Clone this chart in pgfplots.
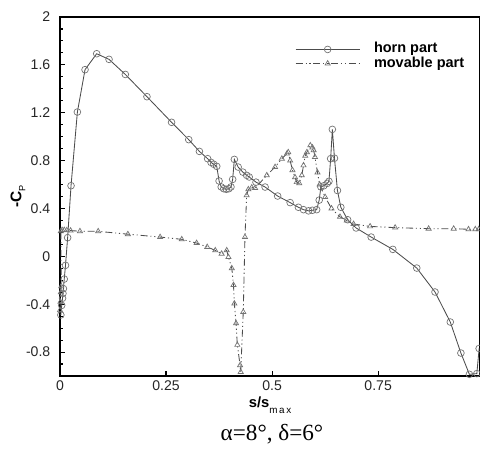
\documentclass[border=0pt]{standalone}
\usepackage{pgfplots}
\pgfplotsset{compat=1.18}
\usepackage{fontspec}
\setmainfont{Liberation Sans}
\newfontfamily\capfont{Liberation Serif}

\begin{document}
\begin{tikzpicture}
\begin{axis}[
    name=ax,
    scale only axis,
    width=10.5cm, height=8.975cm,
    xmin=0, xmax=0.99, ymin=-1, ymax=2,
    axis line style={black, line width=1.5pt},
    xtick={0,0.25,0.5,0.75},
    xticklabels={0,0.25,0.5,0.75},
    ytick={-0.8,-0.4,0,0.4,0.8,1.2,1.6,2},
    yticklabels={-0.8,-0.4,0,0.4,0.8,1.2,1.6,2},
    minor ytick={-0.9,-0.8,...,1.95},
    tick pos=left,
    tick align=inside,
    major tick length=0.13cm,
    minor tick length=0.07cm,
    tick style={black, line width=0.8pt},
    ticklabel style={font=\fontsize{10}{12}\selectfont, text=black!85},
    yticklabel style={xshift=-0.12cm},
    xlabel={\textbf{s/s}\raisebox{-0.7ex}{\fontsize{7}{8}\selectfont m\,a\,x}},
    xlabel style={at={(axis description cs:0.5,-0.081)}, anchor=center, font=\fontsize{10.5}{12}\selectfont},
    ylabel={\textbf{-C}\raisebox{-0.5ex}{\fontsize{6.5}{8}\selectfont P}},
    ylabel style={at={(axis description cs:-0.1,0.5)}, anchor=center, font=\fontsize{11}{12}\selectfont},
    legend style={
        at={(axis description cs:0.5595,0.930)},
        anchor=north west,
        draw=none, fill=none, inner sep=0pt,
        font=\fontsize{10.3}{12}\bfseries,
        nodes={inner sep=0.5pt, text height=7pt, text depth=2pt},
        /tikz/every odd column/.append style={column sep=0.33cm},
    },
    legend cell align=left,
    legend image code/.code={
        \draw[mark repeat=2, mark phase=2, #1]
            plot coordinates {(0cm,0cm) (0.8cm,0cm) (1.6cm,0cm)};
    },
]

% horn part
\addplot[draw=black!70, line width=0.6pt, mark=o, mark size=2.4pt,
         mark options={draw=black!55, fill=none, line width=0.5pt, solid}] coordinates {
(0.002,-0.49) (0.004,-0.41) (0.006,-0.35) (0.007,-0.31) (0.008,-0.27)
(0.010,-0.19) (0.013,-0.075) (0.018,0.156) (0.026,0.59) (0.041,1.206)
(0.059,1.56) (0.0865,1.693) (0.1156,1.646) (0.154,1.52) (0.205,1.334)
(0.263,1.12) (0.3035,0.975) (0.3286,0.877) (0.348,0.816) (0.356,0.785)
(0.362,0.77) (0.3695,0.752) (0.375,0.63) (0.380,0.58) (0.386,0.565)
(0.392,0.56) (0.398,0.565) (0.403,0.58) (0.407,0.643) (0.411,0.81)
(0.420,0.746) (0.431,0.704) (0.440,0.677) (0.446,0.663) (0.462,0.62)
(0.4835,0.579) (0.513,0.504) (0.5425,0.449) (0.562,0.41) (0.574,0.39)
(0.586,0.38) (0.595,0.385) (0.605,0.39) (0.611,0.47) (0.615,0.58)
(0.622,0.59) (0.630,0.61) (0.634,0.627) (0.638,0.816) (0.642,1.061)
(0.647,0.82) (0.654,0.55) (0.662,0.41) (0.678,0.306) (0.698,0.237)
(0.7335,0.161) (0.7846,0.058) (0.841,-0.098) (0.884,-0.298) (0.92,-0.549)
(0.945,-0.808) (0.965,-0.986) (0.9826,-0.98) (0.988,-0.77)
};
\addlegendentry{horn part}

% movable part
\addplot[draw=black!70, line width=0.6pt,
         dash pattern={on 5pt off 2pt on 0.8pt off 2pt on 0.8pt off 2pt},
         mark=triangle, mark size=2.1pt,
         mark options={draw=black!55, fill=none, line width=0.5pt, solid}] coordinates {
(0.000,-0.45) (0.001,-0.38) (0.002,-0.30) (0.003,-0.25) (0.002,0.21)
(0.005,0.22) (0.010,0.22) (0.016,0.218) (0.025,0.215) (0.047,0.21)
(0.09,0.209) (0.16,0.185) (0.236,0.161) (0.287,0.142) (0.322,0.111)
(0.347,0.078) (0.366,0.05) (0.381,0.022) (0.393,0.05) (0.397,-0.006)
(0.405,-0.10) (0.409,-0.24) (0.411,-0.395) (0.415,-0.56) (0.418,-0.74)
(0.4245,-0.91) (0.426,-0.966) (0.432,-0.465) (0.436,0.161) (0.44,0.51)
(0.444,0.56) (0.452,0.575) (0.46,0.57) (0.4875,0.677) (0.507,0.746)
(0.523,0.816) (0.535,0.858) (0.538,0.87) (0.5425,0.80) (0.548,0.72)
(0.554,0.66) (0.558,0.62) (0.564,0.61) (0.57,0.677) (0.574,0.76)
(0.578,0.84) (0.582,0.87) (0.59,0.927) (0.595,0.91) (0.598,0.886)
(0.601,0.83) (0.607,0.70) (0.612,0.60) (0.625,0.495) (0.64,0.40)
(0.66,0.33) (0.676,0.30) (0.692,0.27) (0.731,0.25) (0.79,0.24)
(0.869,0.231) (0.928,0.231) (0.963,0.226) (0.979,0.226) (0.987,0.226)
};
\addlegendentry{movable part}

\end{axis}
\node[font=\capfont\fontsize{16.5}{18}\selectfont] at (5.3cm,-1.45cm) {α=8°, δ=6°};
\pgfresetboundingbox
\useasboundingbox (-1.5cm,-1.85cm) rectangle (10.5cm,9.4cm);
\end{tikzpicture}
\end{document}
